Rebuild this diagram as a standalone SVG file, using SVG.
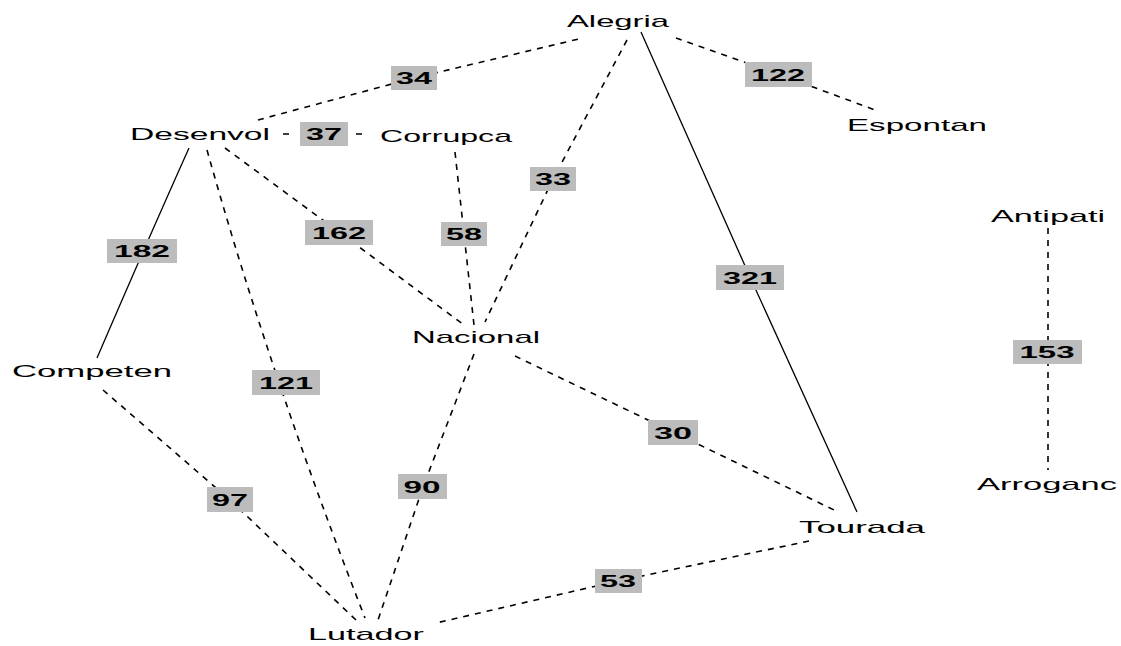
<svg xmlns="http://www.w3.org/2000/svg" width="1121" height="646" viewBox="0 0 1121 646">
<style>
.n{font-family:"Liberation Sans",Arial,sans-serif;font-size:17px;fill:#000;text-anchor:middle}
.lb{font-family:"Liberation Sans",Arial,sans-serif;font-size:17px;font-weight:bold;fill:#000;text-anchor:middle}
.bx{fill:#bcbcbc}
.d{fill:none;stroke:#000;stroke-width:1.6;stroke-dasharray:6 6}
.s{fill:none;stroke:#000;stroke-width:1.3}
</style>
<rect width="1121" height="646" fill="#fff"/>
<g id="connectors">
<path class="d" d="M258,120 L414,78 L583,38"/>
<path class="d" d="M676,38 L778,74 L875,110"/>
<path class="s" d="M641,32 L750,277 L857,512"/>
<path class="d" d="M627,40 L553,179 L485,322"/>
<path class="d" d="M283,134 L292,134 M356,134 L364,134"/>
<path class="s" d="M189,148 Q150,235 97,358"/>
<path class="d" d="M207,150 Q270,375 365,618"/>
<path class="d" d="M225,148 L339,232 L464,325"/>
<path class="d" d="M455,152 L464,234 L474,325"/>
<path class="d" d="M103,390 L230,500 L356,620"/>
<path class="d" d="M474,354 L423,487 L378,620"/>
<path class="d" d="M515,356 L673,432 L834,510"/>
<path class="d" d="M809,541 L618,581 L436,623"/>
<path class="d" d="M1048,228 L1048,470"/>
</g>
<g id="weights">
<g id="w34"><rect class="bx" x="391" y="66" width="46" height="24"/><text class="lb" x="414" y="84" textLength="36" lengthAdjust="spacingAndGlyphs">34</text></g>
<g id="w37"><rect class="bx" x="300" y="122" width="48" height="24"/><text class="lb" x="324" y="140" textLength="36" lengthAdjust="spacingAndGlyphs">37</text></g>
<g id="w122"><rect class="bx" x="745" y="62" width="67" height="25"/><text class="lb" x="778" y="81" textLength="54" lengthAdjust="spacingAndGlyphs">122</text></g>
<g id="w33"><rect class="bx" x="530" y="167" width="46" height="24"/><text class="lb" x="553" y="185" textLength="36" lengthAdjust="spacingAndGlyphs">33</text></g>
<g id="w162"><rect class="bx" x="305" y="220" width="68" height="25"/><text class="lb" x="339" y="239" textLength="54" lengthAdjust="spacingAndGlyphs">162</text></g>
<g id="w58"><rect class="bx" x="441" y="222" width="46" height="24"/><text class="lb" x="464" y="240" textLength="36" lengthAdjust="spacingAndGlyphs">58</text></g>
<g id="w182"><rect class="bx" x="107" y="239" width="70" height="24"/><text class="lb" x="142" y="257" textLength="56" lengthAdjust="spacingAndGlyphs">182</text></g>
<g id="w321"><rect class="bx" x="716" y="265" width="68" height="25"/><text class="lb" x="750" y="284" textLength="54" lengthAdjust="spacingAndGlyphs">321</text></g>
<g id="w153"><rect class="bx" x="1013" y="340" width="69" height="24"/><text class="lb" x="1047" y="358" textLength="55" lengthAdjust="spacingAndGlyphs">153</text></g>
<g id="w121"><rect class="bx" x="252" y="370" width="68" height="25"/><text class="lb" x="286" y="389" textLength="54" lengthAdjust="spacingAndGlyphs">121</text></g>
<g id="w30"><rect class="bx" x="648" y="420" width="50" height="25"/><text class="lb" x="673" y="439" textLength="38" lengthAdjust="spacingAndGlyphs">30</text></g>
<g id="w90"><rect class="bx" x="398" y="474" width="49" height="25"/><text class="lb" x="422" y="493" textLength="37" lengthAdjust="spacingAndGlyphs">90</text></g>
<g id="w97"><rect class="bx" x="207" y="487" width="46" height="25"/><text class="lb" x="230" y="506" textLength="36" lengthAdjust="spacingAndGlyphs">97</text></g>
<g id="w53"><rect class="bx" x="595" y="569" width="47" height="24"/><text class="lb" x="618" y="587" textLength="36" lengthAdjust="spacingAndGlyphs">53</text></g>
</g>
<g id="Alegria"><text class="n" x="618" y="27" textLength="102" lengthAdjust="spacingAndGlyphs">Alegria</text></g>
<g id="Desenvol"><text class="n" x="200" y="140" textLength="140" lengthAdjust="spacingAndGlyphs">Desenvol</text></g>
<g id="Corrupca"><text class="n" x="446" y="142" textLength="132" lengthAdjust="spacingAndGlyphs">Corrupca</text></g>
<g id="Espontan"><text class="n" x="917" y="131" textLength="140" lengthAdjust="spacingAndGlyphs">Espontan</text></g>
<g id="Antipati"><text class="n" x="1048" y="222" textLength="114" lengthAdjust="spacingAndGlyphs">Antipati</text></g>
<g id="Nacional"><text class="n" x="476" y="343" textLength="128" lengthAdjust="spacingAndGlyphs">Nacional</text></g>
<g id="Competen"><text class="n" x="92" y="377" textLength="160" lengthAdjust="spacingAndGlyphs">Competen</text></g>
<g id="Arroganc"><text class="n" x="1047" y="490" textLength="140" lengthAdjust="spacingAndGlyphs">Arroganc</text></g>
<g id="Tourada"><text class="n" x="862" y="533" textLength="126" lengthAdjust="spacingAndGlyphs">Tourada</text></g>
<g id="Lutador"><text class="n" x="366" y="640" textLength="116" lengthAdjust="spacingAndGlyphs">Lutador</text></g>
</svg>
